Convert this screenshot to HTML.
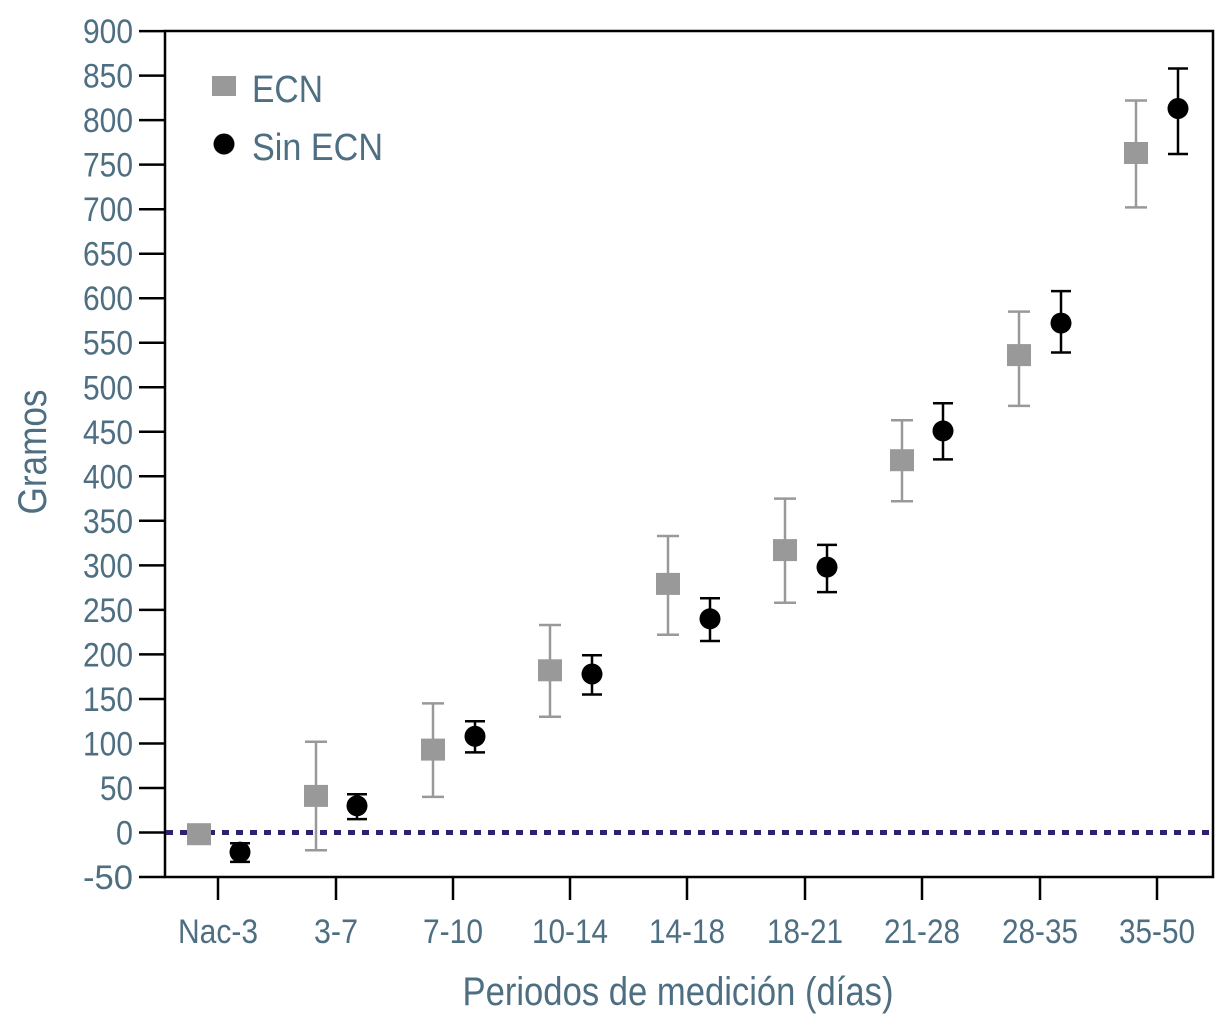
<!DOCTYPE html>
<html><head><meta charset="utf-8"><style>
html,body{margin:0;padding:0;background:#fff;}
svg{display:block;}
text{font-family:"Liberation Sans",sans-serif;fill:#4e6f82;}
</style></head><body>
<svg width="1220" height="1024" viewBox="0 0 1220 1024" xmlns="http://www.w3.org/2000/svg">
<rect width="1220" height="1024" fill="#fff"/>
<rect x="165" y="31" width="1048" height="846" fill="none" stroke="#000" stroke-width="2.5"/>
<line x1="166" y1="832.5" x2="1212" y2="832.5" stroke="#2a2470" stroke-width="5" stroke-dasharray="7,7"/>
<g stroke="#000" stroke-width="2.5">
<line x1="139" y1="877" x2="165" y2="877"/><line x1="139" y1="832.5" x2="165" y2="832.5"/>
<line x1="139" y1="788" x2="165" y2="788"/><line x1="139" y1="743.5" x2="165" y2="743.5"/>
<line x1="139" y1="699" x2="165" y2="699"/><line x1="139" y1="654.4" x2="165" y2="654.4"/>
<line x1="139" y1="609.9" x2="165" y2="609.9"/><line x1="139" y1="565.4" x2="165" y2="565.4"/>
<line x1="139" y1="520.8" x2="165" y2="520.8"/><line x1="139" y1="476.3" x2="165" y2="476.3"/>
<line x1="139" y1="431.8" x2="165" y2="431.8"/><line x1="139" y1="387.3" x2="165" y2="387.3"/>
<line x1="139" y1="342.7" x2="165" y2="342.7"/><line x1="139" y1="298.2" x2="165" y2="298.2"/>
<line x1="139" y1="253.7" x2="165" y2="253.7"/><line x1="139" y1="209.2" x2="165" y2="209.2"/>
<line x1="139" y1="164.6" x2="165" y2="164.6"/><line x1="139" y1="120.1" x2="165" y2="120.1"/>
<line x1="139" y1="75.6" x2="165" y2="75.6"/><line x1="139" y1="31.1" x2="165" y2="31.1"/>
<line x1="218" y1="877" x2="218" y2="900"/><line x1="336" y1="877" x2="336" y2="900"/>
<line x1="453" y1="877" x2="453" y2="900"/><line x1="570" y1="877" x2="570" y2="900"/>
<line x1="687" y1="877" x2="687" y2="900"/><line x1="805" y1="877" x2="805" y2="900"/>
<line x1="922" y1="877" x2="922" y2="900"/><line x1="1040" y1="877" x2="1040" y2="900"/>
<line x1="1157" y1="877" x2="1157" y2="900"/>
</g>
<g font-size="34" text-anchor="end">
<text x="133" y="889" textLength="50" lengthAdjust="spacingAndGlyphs">-50</text>
<text x="133" y="844.5" textLength="17" lengthAdjust="spacingAndGlyphs">0</text>
<text x="133" y="800" textLength="33" lengthAdjust="spacingAndGlyphs">50</text>
<text x="133" y="755.5" textLength="50" lengthAdjust="spacingAndGlyphs">100</text>
<text x="133" y="711" textLength="50" lengthAdjust="spacingAndGlyphs">150</text>
<text x="133" y="666.4" textLength="50" lengthAdjust="spacingAndGlyphs">200</text>
<text x="133" y="621.9" textLength="50" lengthAdjust="spacingAndGlyphs">250</text>
<text x="133" y="577.4" textLength="50" lengthAdjust="spacingAndGlyphs">300</text>
<text x="133" y="532.8" textLength="50" lengthAdjust="spacingAndGlyphs">350</text>
<text x="133" y="488.3" textLength="50" lengthAdjust="spacingAndGlyphs">400</text>
<text x="133" y="443.8" textLength="50" lengthAdjust="spacingAndGlyphs">450</text>
<text x="133" y="399.3" textLength="50" lengthAdjust="spacingAndGlyphs">500</text>
<text x="133" y="354.7" textLength="50" lengthAdjust="spacingAndGlyphs">550</text>
<text x="133" y="310.2" textLength="50" lengthAdjust="spacingAndGlyphs">600</text>
<text x="133" y="265.7" textLength="50" lengthAdjust="spacingAndGlyphs">650</text>
<text x="133" y="221.2" textLength="50" lengthAdjust="spacingAndGlyphs">700</text>
<text x="133" y="176.6" textLength="50" lengthAdjust="spacingAndGlyphs">750</text>
<text x="133" y="132.1" textLength="50" lengthAdjust="spacingAndGlyphs">800</text>
<text x="133" y="87.6" textLength="50" lengthAdjust="spacingAndGlyphs">850</text>
<text x="133" y="43.1" textLength="50" lengthAdjust="spacingAndGlyphs">900</text>
</g>
<g font-size="34" text-anchor="middle">
<text x="218" y="943" textLength="80" lengthAdjust="spacingAndGlyphs">Nac-3</text>
<text x="336" y="943" textLength="44" lengthAdjust="spacingAndGlyphs">3-7</text>
<text x="453" y="943" textLength="60" lengthAdjust="spacingAndGlyphs">7-10</text>
<text x="570" y="943" textLength="76" lengthAdjust="spacingAndGlyphs">10-14</text>
<text x="687" y="943" textLength="76" lengthAdjust="spacingAndGlyphs">14-18</text>
<text x="805" y="943" textLength="76" lengthAdjust="spacingAndGlyphs">18-21</text>
<text x="922" y="943" textLength="76" lengthAdjust="spacingAndGlyphs">21-28</text>
<text x="1040" y="943" textLength="76" lengthAdjust="spacingAndGlyphs">28-35</text>
<text x="1157" y="943" textLength="76" lengthAdjust="spacingAndGlyphs">35-50</text>
</g>
<text x="678" y="1005" font-size="40" text-anchor="middle" textLength="431" lengthAdjust="spacingAndGlyphs">Periodos de medición (días)</text>
<text transform="translate(46,452) rotate(-90)" font-size="40" text-anchor="middle" textLength="125" lengthAdjust="spacingAndGlyphs">Gramos</text>
<rect x="212" y="76" width="24" height="20" fill="#999"/>
<text x="252" y="102" font-size="38" textLength="71" lengthAdjust="spacingAndGlyphs">ECN</text>
<circle cx="224" cy="144" r="10.5" fill="#000"/>
<text x="252" y="160" font-size="38" textLength="131" lengthAdjust="spacingAndGlyphs">Sin ECN</text>
<g stroke="#999" stroke-width="2.5" fill="#999">
<line x1="316" y1="850.3" x2="316" y2="741.7"/><line x1="305" y1="850.3" x2="327" y2="850.3"/><line x1="305" y1="741.7" x2="327" y2="741.7"/>
<line x1="433" y1="796.9" x2="433" y2="703.4"/><line x1="422" y1="796.9" x2="444" y2="796.9"/><line x1="422" y1="703.4" x2="444" y2="703.4"/>
<line x1="550" y1="716.7" x2="550" y2="625"/><line x1="539" y1="716.7" x2="561" y2="716.7"/><line x1="539" y1="625" x2="561" y2="625"/>
<line x1="668" y1="634.8" x2="668" y2="536"/><line x1="657" y1="634.8" x2="679" y2="634.8"/><line x1="657" y1="536" x2="679" y2="536"/>
<line x1="785" y1="602.8" x2="785" y2="498.6"/><line x1="774" y1="602.8" x2="796" y2="602.8"/><line x1="774" y1="498.6" x2="796" y2="498.6"/>
<line x1="902" y1="501.2" x2="902" y2="420.2"/><line x1="891" y1="501.2" x2="913" y2="501.2"/><line x1="891" y1="420.2" x2="913" y2="420.2"/>
<line x1="1019" y1="405.9" x2="1019" y2="311.6"/><line x1="1008" y1="405.9" x2="1030" y2="405.9"/><line x1="1008" y1="311.6" x2="1030" y2="311.6"/>
<line x1="1136" y1="207.4" x2="1136" y2="100.5"/><line x1="1125" y1="207.4" x2="1147" y2="207.4"/><line x1="1125" y1="100.5" x2="1147" y2="100.5"/>
</g>
<g fill="#999">
<rect x="187" y="823.2" width="24" height="22"/>
<rect x="304" y="784.9" width="24" height="22"/>
<rect x="421" y="738.6" width="24" height="22"/>
<rect x="538" y="659.3" width="24" height="22"/>
<rect x="656" y="572.9" width="24" height="22"/>
<rect x="773" y="539.1" width="24" height="22"/>
<rect x="890" y="449.2" width="24" height="22"/>
<rect x="1007" y="344.1" width="24" height="22"/>
<rect x="1124" y="142" width="24" height="22"/>
</g>
<g stroke="#000" stroke-width="2.5">
<line x1="240" y1="861.9" x2="240" y2="843.2"/><line x1="230" y1="861.9" x2="250" y2="861.9"/><line x1="230" y1="843.2" x2="250" y2="843.2"/>
<line x1="357" y1="819.1" x2="357" y2="794.2"/><line x1="347" y1="819.1" x2="367" y2="819.1"/><line x1="347" y1="794.2" x2="367" y2="794.2"/>
<line x1="475" y1="752.4" x2="475" y2="721.2"/><line x1="465" y1="752.4" x2="485" y2="752.4"/><line x1="465" y1="721.2" x2="485" y2="721.2"/>
<line x1="592" y1="694.5" x2="592" y2="655.3"/><line x1="582" y1="694.5" x2="602" y2="694.5"/><line x1="582" y1="655.3" x2="602" y2="655.3"/>
<line x1="710" y1="641" x2="710" y2="598.3"/><line x1="700" y1="641" x2="720" y2="641"/><line x1="700" y1="598.3" x2="720" y2="598.3"/>
<line x1="827" y1="592.1" x2="827" y2="544.9"/><line x1="817" y1="592.1" x2="837" y2="592.1"/><line x1="817" y1="544.9" x2="837" y2="544.9"/>
<line x1="943" y1="459.4" x2="943" y2="403.3"/><line x1="933" y1="459.4" x2="953" y2="459.4"/><line x1="933" y1="403.3" x2="953" y2="403.3"/>
<line x1="1061" y1="352.5" x2="1061" y2="291.1"/><line x1="1051" y1="352.5" x2="1071" y2="352.5"/><line x1="1051" y1="291.1" x2="1071" y2="291.1"/>
<line x1="1178" y1="154" x2="1178" y2="68.5"/><line x1="1168" y1="154" x2="1188" y2="154"/><line x1="1168" y1="68.5" x2="1188" y2="68.5"/>
</g>
<g fill="#000">
<circle cx="240" cy="852.1" r="10.5"/><circle cx="357" cy="805.8" r="10.5"/>
<circle cx="475" cy="736.3" r="10.5"/><circle cx="592" cy="674" r="10.5"/>
<circle cx="710" cy="618.8" r="10.5"/><circle cx="827" cy="567.1" r="10.5"/>
<circle cx="943" cy="430.9" r="10.5"/><circle cx="1061" cy="323.1" r="10.5"/>
<circle cx="1178" cy="108.5" r="10.5"/>
</g>
</svg>
</body></html>
